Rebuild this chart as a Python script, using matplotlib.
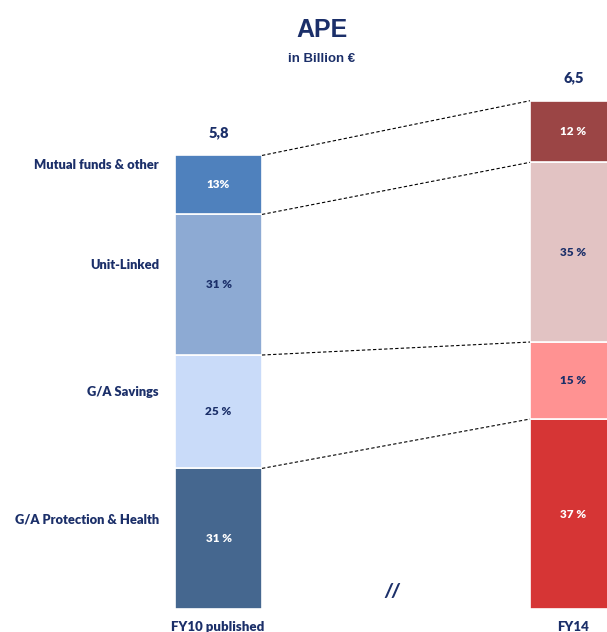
import numpy as np
import matplotlib.pyplot as plt

# Données (APE en milliards d'euros)
categories = ["G/A Protection & Health", "G/A Savings", "Unit-Linked", "Mutual funds & other"]
periods = ["FY10 published", "FY14"]
totals = [5.8, 6.5]
total_labels = ["5,8", "6,5"]
pct_fy10 = [31, 25, 31, 13]
pct_fy14 = [37, 15, 35, 12]
pct_labels_fy10 = ["31 %", "25 %", "31 %", "13%"]
pct_labels_fy14 = ["37 %", "15 %", "35 %", "12 %"]

colors_fy10 = ["#45678F", "#C9DBF9", "#8DAAD3", "#4F81BD"]
colors_fy14 = ["#D63535", "#FF9292", "#E2C3C3", "#9B4545"]
text_fy10 = ["white", "#1B2F69", "#1B2F69", "white"]
text_fy14 = ["white", "#1B2F69", "#1B2F69", "white"]

navy = "#1B2F69"
font_lbl = "Lato"

fig = plt.figure(figsize=(6.07, 6.32), dpi=100)
ax = fig.add_axes([0, 0, 1, 1])
ax.set_xlim(0, 607)
ax.set_ylim(-0.294, 7.788)
ax.axis("off")

x_pos = [218.5, 573.5]
width = 87


def segments(total, pct):
    pct = np.array(pct, dtype=float)
    h = total * pct / pct.sum()
    bottoms = np.concatenate([[0], np.cumsum(h)[:-1]])
    return h, bottoms


h10, b10 = segments(totals[0], pct_fy10)
h14, b14 = segments(totals[1], pct_fy14)

for x, h, b, cols, tcols, labs in [
    (x_pos[0], h10, b10, colors_fy10, text_fy10, pct_labels_fy10),
    (x_pos[1], h14, b14, colors_fy14, text_fy14, pct_labels_fy14),
]:
    ax.bar([x] * 4, h, bottom=b, width=width, color=cols, edgecolor="white", linewidth=1.2)
    for hi, bi, tc, lab in zip(h, b, tcols, labs):
        ax.text(x, bi + hi / 2, lab, ha="center", va="center", color=tc,
                fontsize=8.5, fontweight="heavy", family=font_lbl)

# totaux au-dessus des barres
for x, t, lab in zip(x_pos, totals, total_labels):
    ax.text(x, t + 0.29, lab, ha="center", va="center", color=navy,
            fontsize=10.5, fontweight="heavy", family=font_lbl)

# lignes pointillées entre les deux barres
x_left = x_pos[0] + width / 2
x_right = x_pos[1] - width / 2
for y0, y1 in zip(b10 + h10, b14 + h14):
    ax.plot([x_left, x_right], [y0, y1], color="black", linestyle=(0, (3, 2)), linewidth=0.8)

# libellés des catégories
for cat, hi, bi in zip(categories, h10, b10):
    ax.text(159, bi + hi / 2 + 0.25, cat, ha="right", va="center", color=navy,
            fontsize=9.3, fontweight="heavy", family=font_lbl)

# libellés des périodes
for x, p in zip(x_pos, periods):
    ax.text(x - 1, -0.225, p, ha="center", va="center", color=navy,
            fontsize=9.5, fontweight="heavy", family=font_lbl)

ax.text(392, 0.23, "//", ha="center", va="center", color=navy,
        fontsize=13, fontweight="heavy", style="italic", family=font_lbl)

fig.text(0.53, 0.953, "APE", ha="center", va="center", color=navy,
         fontsize=18, fontweight="bold", family="Liberation Sans")
fig.text(0.53, 0.906, "in Billion €", ha="center", va="center", color=navy,
         fontsize=9.5, fontweight="bold", family="Liberation Sans")

fig.savefig("out.png", dpi=100)
